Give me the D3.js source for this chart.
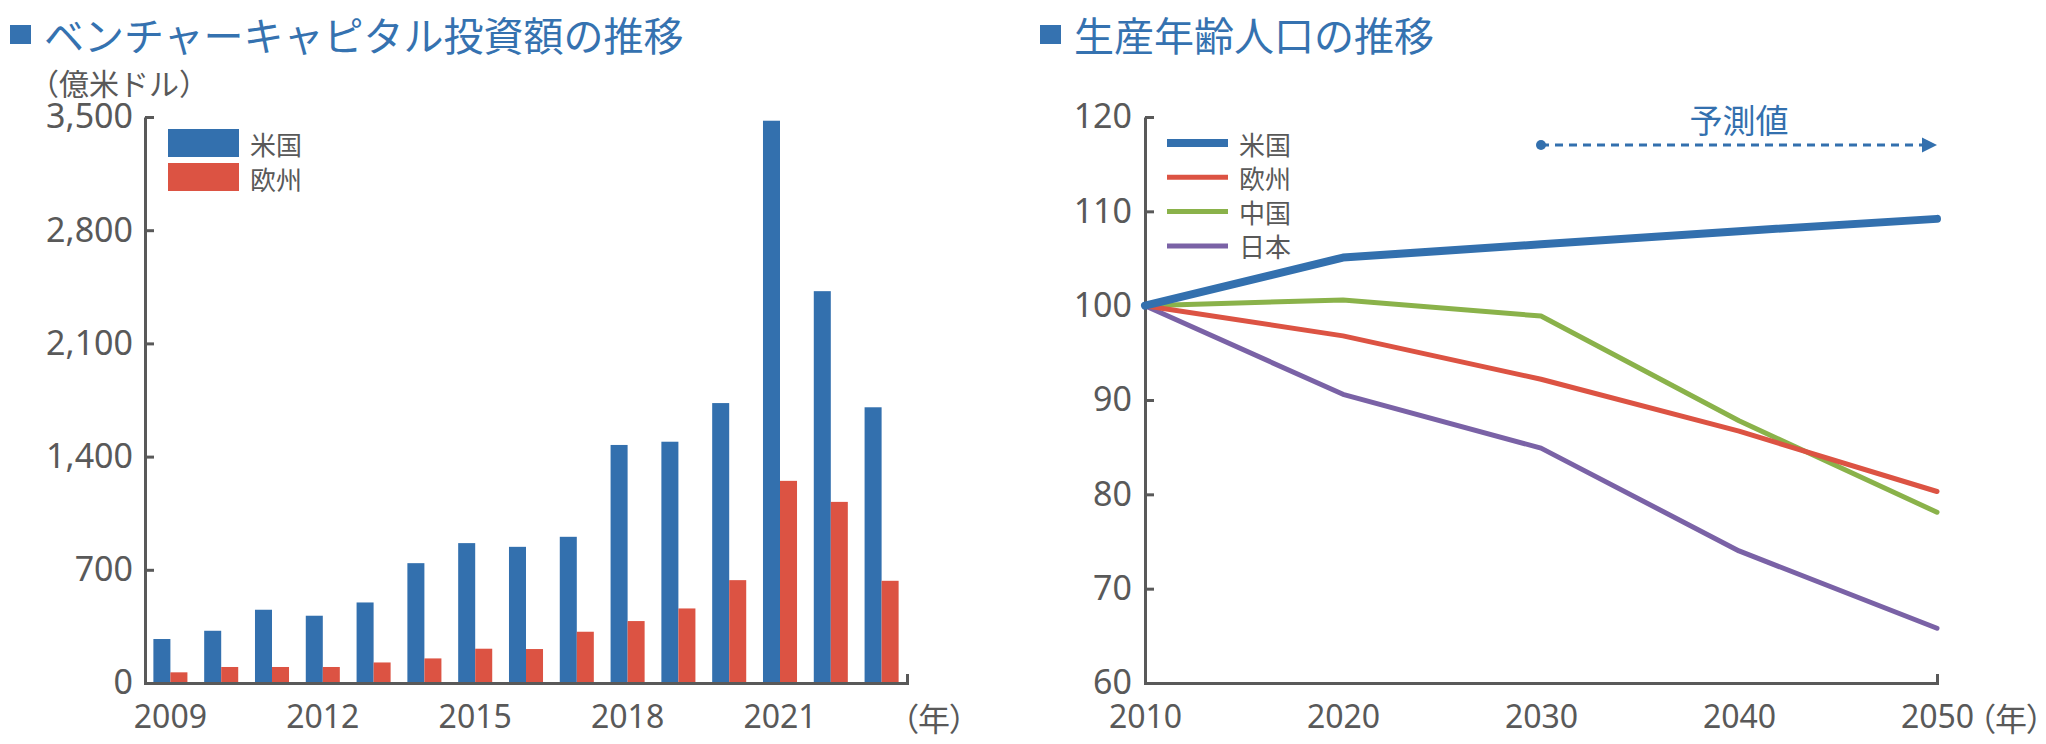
<!DOCTYPE html>
<html>
<head>
<meta charset="utf-8">
<script src="https://cdn.jsdelivr.net/npm/d3@7"></script>
<style>
  html, body { margin: 0; padding: 0; background: #ffffff; }
  svg { display: block; }
</style>
</head>
<body>
<svg id="chart" width="2046" height="744"></svg>
<script>
// ---------- Data ----------
const vcYears = [2009, 2010, 2011, 2012, 2013, 2014, 2015, 2016, 2017, 2018, 2019, 2020, 2021, 2022, 2023];
const usVC = [272, 323, 453, 416, 498, 741, 865, 842, 904, 1472, 1492, 1731, 3477, 2423, 1705];
const euVC = [66, 99, 99, 99, 127, 152, 212, 210, 317, 383, 461, 636, 1250, 1120, 632];
const vcTicks = [0, 700, 1400, 2100, 2800, 3500];
const vcYearLabels = [2009, 2012, 2015, 2018, 2021];
const vcSeriesNames = ["米国", "欧州"];

const popYears = [2010, 2020, 2030, 2040, 2050];
const popUS = [100, 105.1, 106.5, 107.9, 109.2];
const popEU = [100, 96.8, 92.2, 86.7, 80.3];
const popCN = [100, 100.6, 98.9, 87.8, 78.1];
const popJP = [100, 90.6, 84.9, 74.0, 65.8];
const popTicks = [60, 70, 80, 90, 100, 110, 120];
const popSeriesNames = ["米国", "欧州", "中国", "日本"];

const title1 = "ベンチャーキャピタル投資額の推移";
const title2 = "生産年齢人口の推移";
const unit1 = "（億米ドル）";
const yearUnit = "（年）";
const forecastLabel = "予測値";

// ---------- Styles ----------
const BLUE = "#3370ae", RED = "#dc5343", GREEN = "#8ab24a", PURPLE = "#7a62a6";
const TITLE_BLUE = "#3572b0";
const GRAY = "#595959";
const NUM_FONT = "'Noto Sans', 'Open Sans', sans-serif";
const CJK_FONT = "'Noto Sans CJK JP', 'Noto Sans', sans-serif";

const svg = d3.select("#chart");

// ---------- Titles ----------
function title(x, text) {
  svg.append("rect").attr("x", x).attr("y", 25).attr("width", 21).attr("height", 19).attr("fill", TITLE_BLUE);
  svg.append("text").attr("x", x + 34).attr("y", 34)
    .attr("dominant-baseline", "central")
    .attr("font-family", CJK_FONT).attr("font-size", 40)
    .attr("fill", TITLE_BLUE).text(text);
}
title(10, title1);
title(1040, title2);

// ---------- Left chart: bars ----------
const yL = d3.scaleLinear().domain([0, 3500]).range([683, 117]);
const xL = d3.scaleBand().domain(vcYears).range([145, 907]).paddingInner(0.33).paddingOuter(0.165);
const xSub = d3.scaleBand().domain(vcSeriesNames).range([0, xL.bandwidth()]);
const colorL = d3.scaleOrdinal().domain(vcSeriesNames).range([BLUE, RED]);

svg.append("text").attr("x", 29).attr("y", 82)
  .attr("dominant-baseline", "central")
  .attr("font-family", CJK_FONT).attr("font-size", 30).attr("fill", GRAY).text(unit1);

const barsG = svg.append("g");
const vcRows = vcYears.map((yr, i) => ({ year: yr, vals: [usVC[i], euVC[i]] }));
barsG.selectAll("g.yr").data(vcRows).join("g")
  .attr("class", "yr")
  .attr("transform", d => `translate(${xL(d.year)},0)`)
  .selectAll("rect")
  .data(d => d.vals.map((v, j) => ({ name: vcSeriesNames[j], v })))
  .join("rect")
  .attr("x", d => xSub(d.name))
  .attr("width", xSub.bandwidth())
  .attr("y", d => yL(d.v))
  .attr("height", d => yL(0) - yL(d.v))
  .attr("fill", d => colorL(d.name));

function styleAxis(g, fontSize) {
  g.selectAll("path.domain").attr("stroke", GRAY).attr("stroke-width", 3).attr("fill", "none");
  g.selectAll(".tick line").attr("stroke", GRAY).attr("stroke-width", 3);
  g.selectAll(".tick text").attr("fill", GRAY).attr("font-family", NUM_FONT).attr("font-size", fontSize);
}

const yAxisL = svg.append("g").attr("transform", "translate(145,0)")
  .call(d3.axisLeft(yL).tickValues(vcTicks).tickSize(-9).tickSizeOuter(0).tickPadding(12).tickFormat(d3.format(",")));
styleAxis(yAxisL, 34);

const xAxisL = svg.append("g").attr("transform", "translate(0,683)")
  .call(d3.axisBottom(xL).tickValues(vcYearLabels).tickSize(0).tickSizeOuter(-9).tickPadding(22));
styleAxis(xAxisL, 32);
yAxisL.raise();

svg.append("text").attr("x", 902).attr("y", 717)
  .attr("dominant-baseline", "central")
  .style("font-feature-settings", "'palt'")
  .attr("font-family", CJK_FONT).attr("font-size", 32).attr("fill", GRAY).text(yearUnit);

// legend left
const legL = svg.append("g");
vcSeriesNames.forEach((n, i) => {
  legL.append("rect").attr("x", 168).attr("y", 129 + i * 34).attr("width", 71).attr("height", 28).attr("fill", colorL(n));
  legL.append("text").attr("x", 250).attr("y", 143 + i * 35)
    .attr("dominant-baseline", "central")
    .attr("font-family", CJK_FONT).attr("font-size", 26).attr("fill", GRAY).text(n);
});

// ---------- Right chart: lines ----------
const xR = d3.scaleLinear().domain([2010, 2050]).range([1145, 1937]);
const yR = d3.scaleLinear().domain([60, 120]).range([683, 117]);
const popSeries = [
  { name: "米国", vals: popUS, color: BLUE, w: 8 },
  { name: "欧州", vals: popEU, color: RED, w: 5 },
  { name: "中国", vals: popCN, color: GREEN, w: 5 },
  { name: "日本", vals: popJP, color: PURPLE, w: 5 }
];

const yAxisR = svg.append("g").attr("transform", "translate(1145,0)")
  .call(d3.axisLeft(yR).tickValues(popTicks).tickSize(-9).tickSizeOuter(0).tickPadding(13));
styleAxis(yAxisR, 34);

const xAxisR = svg.append("g").attr("transform", "translate(0,683)")
  .call(d3.axisBottom(xR).tickValues(popYears).tickFormat(d3.format("d")).tickSize(0).tickSizeOuter(-9).tickPadding(22));
styleAxis(xAxisR, 32);

svg.append("text").attr("x", 1979).attr("y", 717)
  .attr("dominant-baseline", "central")
  .style("font-feature-settings", "'palt'")
  .attr("font-family", CJK_FONT).attr("font-size", 32).attr("fill", GRAY).text(yearUnit);

const line = d3.line().x((d, i) => xR(popYears[i])).y(d => yR(d));
const drawOrder = [3, 2, 1, 0];
drawOrder.forEach(k => {
  const s = popSeries[k];
  svg.append("path").attr("d", line(s.vals))
    .attr("fill", "none").attr("stroke", s.color).attr("stroke-width", s.w)
    .attr("stroke-linecap", "round").attr("stroke-linejoin", "round");
});

// legend right
popSeries.forEach((s, i) => {
  const yy = 143 + i * 34.3;
  svg.append("line").attr("x1", 1167).attr("x2", 1228).attr("y1", yy).attr("y2", yy)
    .attr("stroke", s.color).attr("stroke-width", s.w);
  svg.append("text").attr("x", 1239).attr("y", yy)
    .attr("dominant-baseline", "central")
    .attr("font-family", CJK_FONT).attr("font-size", 26).attr("fill", GRAY).text(s.name);
});

// forecast annotation
const ay = 145;
const ax0 = xR(2030), ax1 = xR(2050);
svg.append("line").attr("x1", ax0).attr("x2", ax1 - 14).attr("y1", ay).attr("y2", ay)
  .attr("stroke", BLUE).attr("stroke-width", 3).attr("stroke-dasharray", "8,6");
svg.append("circle").attr("cx", ax0).attr("cy", ay).attr("r", 5).attr("fill", BLUE);
svg.append("path")
  .attr("d", `M${ax1 - 15},${ay - 7.5}L${ax1},${ay}L${ax1 - 15},${ay + 7.5}Z`)
  .attr("fill", BLUE);
svg.append("text").attr("x", xR(2040)).attr("y", 119)
  .attr("text-anchor", "middle").attr("dominant-baseline", "central")
  .attr("font-family", CJK_FONT).attr("font-size", 33).attr("fill", BLUE).text(forecastLabel);
</script>
</body>
</html>
